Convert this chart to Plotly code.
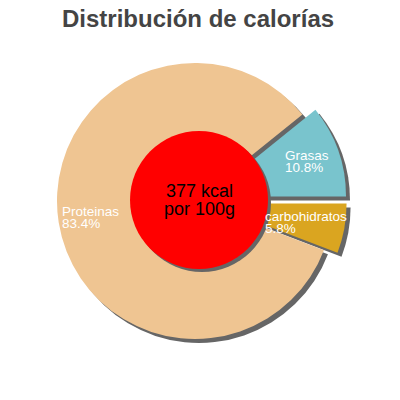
import math
import plotly.graph_objects as go

# ---- data ----
labels = ["carbohidratos", "Proteinas", "Grasas"]
values = [5.8, 83.4, 10.8]
pct_text = ["5.8%", "83.4%", "10.8%"]
pulls = [0.1, 0.0, 0.1]
colors = ["#daa520", "#efc592", "#79c4cd"]
title_text = "Distribución de calorías"
center_lines = ["377 kcal", "por 100g"]

# ---- geometry (window pixels, 400x400 window) ----
W = H = 400
OFF = 0                             # body margin removed below
CX, CY, R = 195, 201, 138          # main pie centre / radius
RCX, RCY, RR = 199, 200, 69        # red centre disc
SH = 4                              # shadow offset
SHADOW = "#666666"
FONT = "Liberation Sans, Arial, sans-serif"
maxpull = max(pulls)


def px(x):
    return (x - OFF) / W


def py(y):
    return 1 - (y - OFF) / H


def dom(cx, cy, r, pull=0.0):
    half = r * (1 + pull)
    return dict(x=[px(cx - half), px(cx + half)],
                y=[py(cy + half), py(cy - half)])


fig = go.Figure()

common = dict(values=values, labels=labels, sort=False, direction="clockwise",
              rotation=90, pull=pulls, textinfo="none", hoverinfo="skip",
              showlegend=False)

# shadow of main pie
fig.add_trace(go.Pie(domain=dom(CX + SH, CY + SH, R, maxpull),
                     marker=dict(colors=[SHADOW] * len(values), line=dict(width=0)),
                     **common))
# main pie
fig.add_trace(go.Pie(domain=dom(CX, CY, R, maxpull),
                     marker=dict(colors=colors, line=dict(width=0)),
                     **common))
# red disc shadow + red disc
for cx, cy, col in [(RCX + 3, RCY + 3, SHADOW), (RCX, RCY, "#ff0000")]:
    fig.add_trace(go.Pie(values=[1], labels=["total"], sort=False,
                         domain=dom(cx, cy, RR), textinfo="none",
                         hoverinfo="skip", showlegend=False,
                         marker=dict(colors=[col], line=dict(width=0))))

annotations = []
# slice labels
total = sum(values)
cum = 0.0
LABEL_R = 0.75
FS = 13.5
LINE = 12
for lab, v, p, pl in zip(labels, values, pct_text, pulls):
    a0 = -cum / total * 360
    a1 = a0 - v / total * 360
    mid = math.radians((a0 + a1) / 2)
    cum += v
    rr = (LABEL_R + pl) * R
    lx = CX + rr * math.cos(mid)
    ly = CY - rr * math.sin(mid)
    est_w = max(len(lab), len(p)) * 0.55 * 13
    left = lx - est_w / 2
    for i, t in enumerate([lab, p]):
        annotations.append(dict(
            x=px(left), y=py(ly - LINE / 2 + i * LINE),
            xref="paper", yref="paper", xanchor="left", yanchor="middle",
            text=t, showarrow=False, borderpad=0,
            font=dict(family=FONT, size=FS, color="white")))

# centre text
for i, t in enumerate(center_lines):
    annotations.append(dict(
        x=px(RCX), y=py(RCY - 9 + i * 17.5),
        xref="paper", yref="paper", xanchor="center", yanchor="middle",
        text=t, showarrow=False, borderpad=0,
        font=dict(family=FONT, size=18, color="black")))

# title
annotations.append(dict(
    x=px(198), y=py(18), xref="paper", yref="paper",
    xanchor="center", yanchor="middle", text="<b>" + title_text + "</b>",
    showarrow=False, font=dict(family=FONT, size=24, color="#444444")))

fig.update_layout(width=W, height=H, autosize=False,
                  margin=dict(l=0, r=0, t=0, b=0),
                  paper_bgcolor="white", plot_bgcolor="white",
                  annotations=annotations)

fig.write_html("out.html", config={"displayModeBar": False},
               post_script="document.body.style.margin='0';")
